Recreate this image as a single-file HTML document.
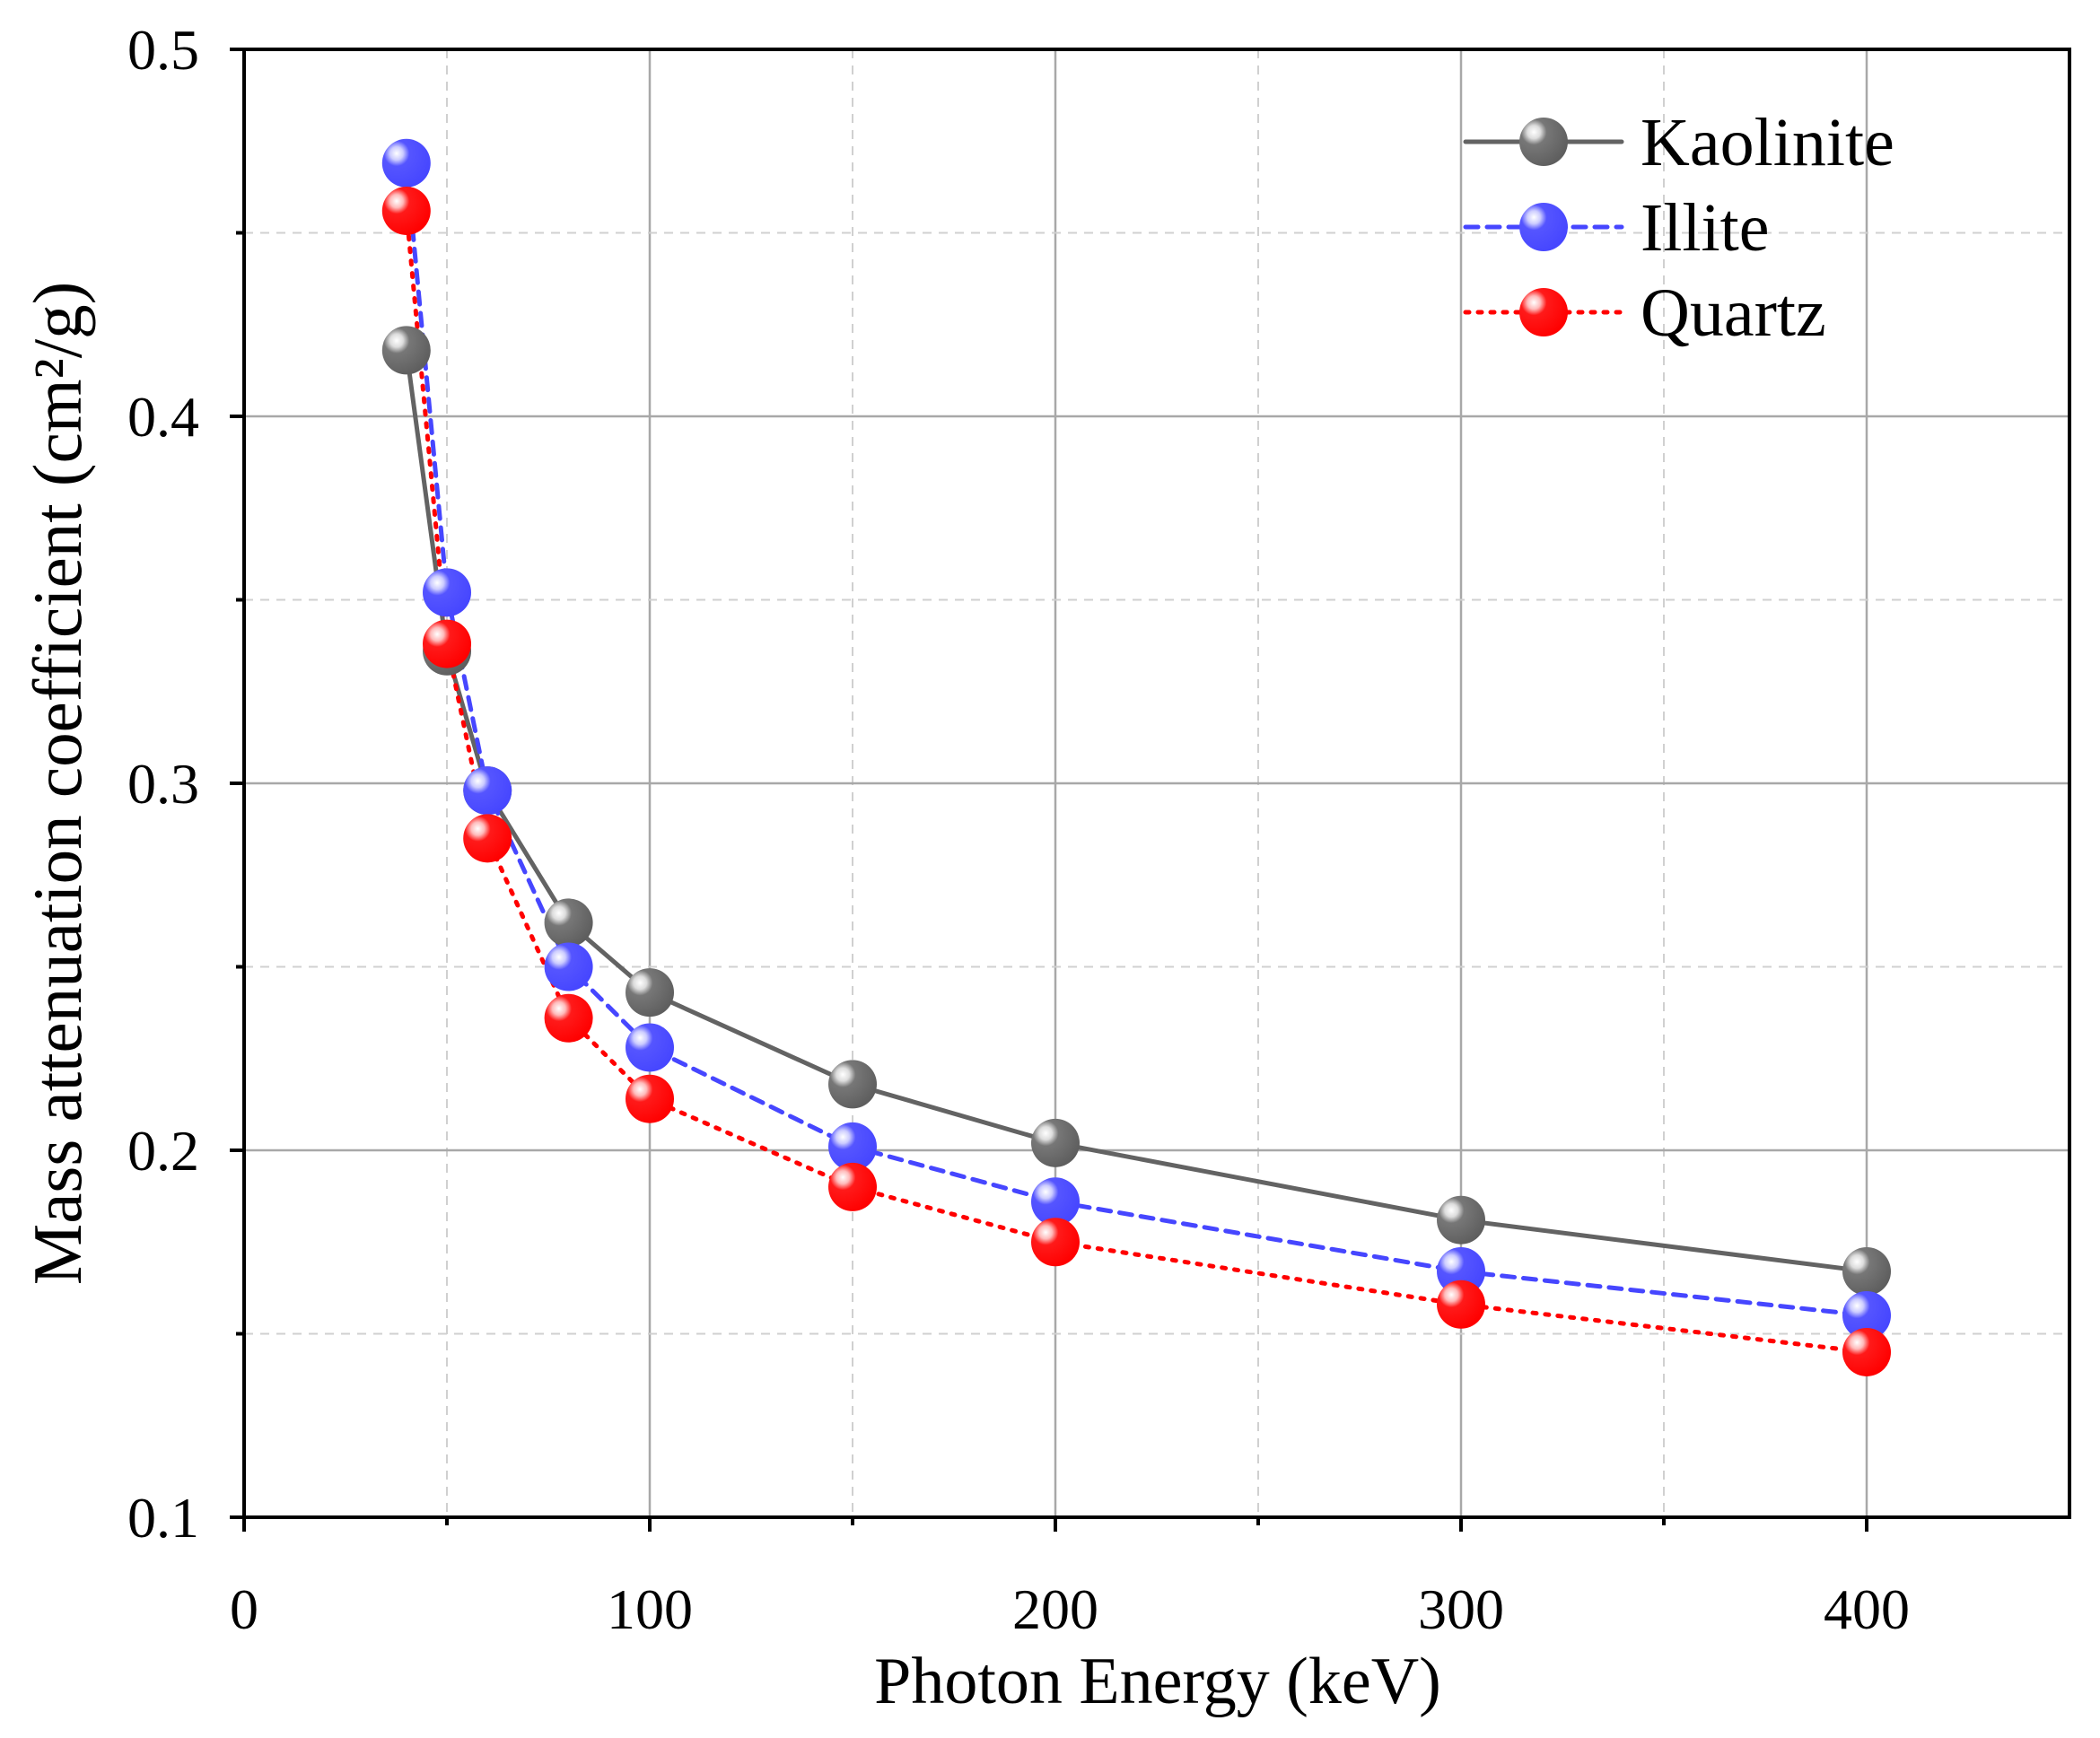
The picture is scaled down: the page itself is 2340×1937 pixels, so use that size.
<!DOCTYPE html>
<html><head><meta charset="utf-8"><style>
html,body{margin:0;padding:0;background:#fff;}
svg{display:block;font-family:"Liberation Serif",serif;}
</style></head><body>
<svg id="chart" width="2340" height="1937" xmlns="http://www.w3.org/2000/svg">
<defs>
<radialGradient id="gK" cx="0.3" cy="0.3" r="0.75"><stop offset="0" stop-color="#fff"/><stop offset="0.18" stop-color="#ddd"/><stop offset="0.35" stop-color="#777"/><stop offset="1" stop-color="#5e5e5e"/></radialGradient>
<radialGradient id="gI" cx="0.3" cy="0.3" r="0.75"><stop offset="0" stop-color="#fff"/><stop offset="0.18" stop-color="#ccf"/><stop offset="0.35" stop-color="#5555ff"/><stop offset="1" stop-color="#4646ff"/></radialGradient>
<radialGradient id="gQ" cx="0.3" cy="0.3" r="0.75"><stop offset="0" stop-color="#fff"/><stop offset="0.18" stop-color="#fbb"/><stop offset="0.35" stop-color="#ff1a1a"/><stop offset="1" stop-color="#f00"/></radialGradient>
</defs>
<g id="grid"></g>
<g id="series"></g>
<rect x="272" y="55" width="2034" height="1636" fill="none" stroke="#000" stroke-width="4"/>
<g id="axes"></g>
<text x="1290" y="1898" font-size="74" text-anchor="middle">Photon Energy (keV)</text>
<text transform="translate(90,873) rotate(-90)" font-size="77" text-anchor="middle">Mass attenuation coefficient (cm²/g)</text>
<g id="legend"></g>
</svg>
<script>
const energies=[40,50,60,80,100,150,200,300,400];
const kaolinite=[0.418,0.336,0.298,0.262,0.243,0.218,0.202,0.181,0.167];
const illite=[0.469,0.352,0.298,0.250,0.228,0.201,0.186,0.167,0.155];
const quartz=[0.456,0.338,0.285,0.236,0.214,0.190,0.175,0.158,0.145];
const xTicks=[0,100,200,300,400];
const yTicks=[0.1,0.2,0.3,0.4,0.5];
const xMinor=[50,150,250,350];
const yMinor=[0.15,0.25,0.35,0.45];
const seriesNames=["Kaolinite","Illite","Quartz"];

const L=272,R=2306,T=55,B=1691;
const xs=v=>L+(v-0)/(450-0)*(R-L);
const ys=v=>B-(v-0.1)/(0.5-0.1)*(B-T);
const NS="http://www.w3.org/2000/svg";
function mk(tag,attrs,parent){const e=document.createElementNS(NS,tag);for(const k in attrs)e.setAttribute(k,attrs[k]);parent.appendChild(e);return e;}
const grid=document.getElementById('grid'),axes=document.getElementById('axes'),ser=document.getElementById('series'),leg=document.getElementById('legend');
xTicks.forEach(v=>{
 if(v>0){const g=mk('line',{x1:xs(v),x2:xs(v),y1:T,y2:B,stroke:'#a8a8a8','stroke-width':2.5},grid);
 
 }
 const t=mk('line',{x1:xs(v),x2:xs(v),y1:B,y2:B+16,stroke:'#000','stroke-width':4},axes);
 
 
 const l=mk('text',{x:xs(v),y:1815,'font-size':64,'text-anchor':'middle'},axes);l.textContent=v;
 
 
});
xMinor.forEach(v=>{
 const g=mk('line',{x1:xs(v),x2:xs(v),y1:T,y2:B,stroke:'#d0d0d0','stroke-width':2,'stroke-dasharray':'10 8'},grid);
 
 
 const t=mk('line',{x1:xs(v),x2:xs(v),y1:B,y2:B+9,stroke:'#000','stroke-width':4},axes);
 
 
});
yTicks.forEach(v=>{
 if(v>0.1&&v<0.5){const g=mk('line',{x1:L,x2:R,y1:ys(v),y2:ys(v),stroke:'#a8a8a8','stroke-width':2.5},grid);
 
 }
 const t=mk('line',{x1:L-16,x2:L,y1:ys(v),y2:ys(v),stroke:'#000','stroke-width':4},axes);
 
 
 const l=mk('text',{x:222,y:ys(v)+22,'font-size':64,'text-anchor':'end'},axes);l.textContent=v.toFixed(1);
 
 
});
yMinor.forEach(v=>{
 const g=mk('line',{x1:L,x2:R,y1:ys(v),y2:ys(v),stroke:'#d0d0d0','stroke-width':2,'stroke-dasharray':'10 8'},grid);
 
 
 const t=mk('line',{x1:L-9,x2:L,y1:ys(v),y2:ys(v),stroke:'#000','stroke-width':4},axes);
 
 
});
const styles=[{c:'#636363',g:'url(#gK)',d:''},{c:'#4646ff',g:'url(#gI)',d:'14 10'},{c:'#ff0000',g:'url(#gQ)',d:'4 10'}];
[kaolinite,illite,quartz].forEach((vals,i)=>{
 const s=styles[i];
 const pts=energies.map((e,j)=>xs(e)+','+ys(vals[j])).join(' ');
 const pl=mk('polyline',{points:pts,fill:'none',stroke:s.c,'stroke-width':5,'stroke-dasharray':s.d,'stroke-linecap':'round'},ser);
 
 
});
[kaolinite,illite,quartz].forEach((vals,i)=>{
 const s=styles[i];
 energies.forEach((e,j)=>{
  const c=mk('circle',{cx:xs(e),cy:ys(vals[j]),r:27,fill:s.g},ser);
  
  
 });
});
[158,253,348].forEach((y,i)=>{
 const s=styles[i];
 const ln=mk('line',{x1:1633,x2:1807,y1:y,y2:y,stroke:s.c,'stroke-width':5,'stroke-dasharray':s.d,'stroke-linecap':'round'},leg);
 
 
 const c=mk('circle',{cx:1720,cy:y,r:27,fill:s.g},leg);
 
 
 const t=mk('text',{x:1828,y:y+26,'font-size':76},leg);t.textContent=seriesNames[i];
 
 
});
</script>
</body></html>
